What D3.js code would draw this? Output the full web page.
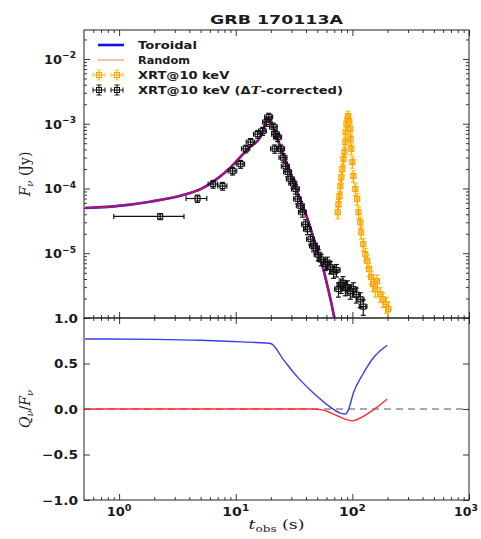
<!DOCTYPE html>
<html><head><meta charset="utf-8">
<script src="https://cdn.jsdelivr.net/npm/d3@7"></script>
<style>body{margin:0;background:#fff}</style>
</head><body>
<script>
// ---------- data ----------
const title = "GRB 170113A";
// model light curve (toroidal and random coincide in the upper panel)
const modelT = [0.51, 0.9, 1.9, 3.6, 5.0, 6.5, 9.0, 12.7, 16.4, 19.2, 22, 24.3, 28, 31.3, 35, 41.2, 46.4, 51, 56.5, 62, 66, 70];
const modelF = [5.0e-5, 5.3e-5, 6.3e-5, 8.0e-5, 9.8e-5, 1.3e-4, 2.1e-4, 4.1e-4, 6.4e-4, 1.26e-3, 6.8e-4, 4.3e-4, 2.2e-4, 1.26e-4, 7.4e-5, 3.4e-5, 1.74e-5, 1.0e-5, 5.6e-6, 2.8e-6, 1.7e-6, 1.0e-6];
// XRT @10 keV, ΔT-corrected (black)
const corrT = [2.25, 4.7, 6.4, 7.7, 9.4, 11.0, 12.2, 13.4, 15.4, 17.0, 18.4, 19.2, 21.1, 22.0, 22.9, 21.6, 24.3, 25.5, 26.7, 27.9, 29.5, 31.0, 32.6, 33.9, 35.9, 37.4, 39.7, 41.2, 43.8, 46.4, 48.5, 51, 54, 58.7, 61, 64.8, 69, 73, 76, 80, 83, 87, 91, 96, 102, 108, 117, 124];
const corrF = [3.7e-5, 7.0e-5, 1.17e-4, 1.09e-4, 1.86e-4, 2.38e-4, 4.1e-4, 5.2e-4, 6.9e-4, 7.7e-4, 1.06e-3, 1.27e-3, 8.9e-4, 6.9e-4, 6.2e-4, 4.1e-4, 4.1e-4, 3.0e-4, 2.2e-4, 1.8e-4, 1.4e-4, 1.2e-4, 9.8e-5, 6.9e-5, 5.4e-5, 4.3e-5, 2.8e-5, 2.35e-5, 1.65e-5, 1.3e-5, 1.2e-5, 9.5e-6, 8.0e-6, 6.8e-6, 7.2e-6, 6.1e-6, 5.2e-6, 5.5e-6, 2.8e-6, 3.2e-6, 3.5e-6, 2.9e-6, 3.0e-6, 2.6e-6, 2.8e-6, 2.3e-6, 1.95e-6, 1.5e-6];
const corrTerr = [1.35, 0.95, 0.6, 0.7, 0.8, 0.9, 1.0, 1.1, 1.2, 1.3, 1.4, 1.5, 1.6, 1.7, 1.8, 1.7, 1.9, 2.0, 2.1, 2.2, 2.3, 2.4, 2.5, 2.6, 2.8, 2.9, 3.0, 3.1, 3.3, 3.5, 3.6, 3.8, 4.0, 4.4, 4.6, 4.9, 5.2, 5.5, 5.7, 6.0, 6.2, 6.5, 6.8, 7.2, 7.6, 8.1, 8.8, 9.3];
const corrFerr = [0.4e-5, 0.9e-5, 1.6e-5, 1.5e-5, 2.5e-5, 3.3e-5, 5.5e-5, 7.0e-5, 9.5e-5, 1.1e-4, 1.5e-4, 1.8e-4, 1.3e-4, 1.0e-4, 0.9e-4, 0.6e-4, 0.6e-4, 0.45e-4, 0.35e-4, 0.28e-4, 0.22e-4, 0.19e-4, 1.6e-5, 1.1e-5, 0.9e-5, 0.7e-5, 0.5e-5, 0.42e-5, 0.3e-5, 0.25e-5, 0.23e-5, 1.9e-6, 1.6e-6, 1.4e-6, 1.5e-6, 1.3e-6, 1.1e-6, 1.2e-6, 0.7e-6, 0.8e-6, 0.85e-6, 0.7e-6, 0.75e-6, 0.65e-6, 0.7e-6, 0.6e-6, 0.5e-6, 0.4e-6];
// XRT @10 keV raw (orange)
const xrtT = [75, 76, 77.5, 79, 80.5, 82, 84, 85.5, 87, 87.5, 89, 91, 92, 94, 96, 96.5, 98, 100, 102, 106, 110, 113, 117, 119, 124, 129, 134, 139, 145, 151, 157, 163, 173, 183, 195, 203];
const xrtF = [4.3e-5, 5.7e-5, 7.6e-5, 1.09e-4, 1.5e-4, 2.0e-4, 2.85e-4, 3.65e-4, 5.2e-4, 7.4e-4, 1.0e-3, 1.18e-3, 1.31e-3, 1.1e-3, 8.3e-4, 5.8e-4, 4.1e-4, 2.56e-4, 1.56e-4, 9.8e-5, 6.9e-5, 4.3e-5, 3.0e-5, 2.1e-5, 1.38e-5, 9.7e-6, 7.6e-6, 5.7e-6, 4.3e-6, 3.33e-6, 2.8e-6, 3.7e-6, 2.33e-6, 1.95e-6, 1.63e-6, 1.37e-6];
const xrtTerr = [1.5, 1.5, 1.5, 1.6, 1.6, 1.6, 1.7, 1.7, 1.7, 1.7, 1.8, 1.8, 1.8, 1.9, 1.9, 1.9, 2.0, 2.0, 2.0, 2.1, 2.2, 2.3, 2.3, 2.4, 2.5, 2.6, 2.7, 2.8, 5.0, 5.5, 6.0, 6.5, 7.0, 8.0, 9.0, 10.0];
const xrtFerr = [0.9e-5, 1.1e-5, 1.5e-5, 2.2e-5, 3.0e-5, 4.0e-5, 5.7e-5, 7.3e-5, 1.0e-4, 1.5e-4, 2.0e-4, 2.4e-4, 2.6e-4, 2.2e-4, 1.7e-4, 1.2e-4, 0.8e-4, 0.5e-4, 0.31e-4, 2.0e-5, 1.4e-5, 0.9e-5, 0.6e-5, 0.45e-5, 0.3e-5, 2.1e-6, 1.7e-6, 1.3e-6, 1.0e-6, 0.8e-6, 0.7e-6, 0.9e-6, 0.6e-6, 0.5e-6, 0.45e-6, 0.4e-6];
// polarization degree Q/F
const torT = [0.51, 2, 5, 10, 15, 19.9, 25.7, 33.9, 46.4, 64.8, 78.9, 87.1, 92.4, 102, 124, 151, 199];
const torQ = [0.77, 0.765, 0.755, 0.74, 0.73, 0.72, 0.54, 0.35, 0.175, 0.02, -0.045, -0.055, -0.01, 0.175, 0.39, 0.56, 0.70];
const ranT = [0.51, 10, 30, 45, 55, 64.8, 78.9, 100, 124, 163, 199];
const ranQ = [0, 0, 0, 0, -0.01, -0.04, -0.09, -0.13, -0.08, 0.02, 0.11];
// axis ticks
const xMajor = [1, 10, 100, 1000];
const xMajorExp = ["0", "1", "2", "3"];
const yTopMajor = [1e-6, 1e-5, 1e-4, 1e-3, 1e-2];
const yTopLabels = [[1e-5, "−5"], [1e-4, "−4"], [1e-3, "−3"], [1e-2, "−2"]];
const yBotMajor = [-1, -0.5, 0, 0.5, 1];
const yBotLabels = ["−1.0", "−0.5", "0.0", "0.5", "1.0"];
const legendLabels = ["Toroidal", "Random", "XRT@10 keV", "XRT@10 keV ("];

// ---------- layout ----------
const W = 481, H = 539;
const L = 84, R = 469, T1 = 30, B1 = 318, T2 = 318, B2 = 500;
const FONT = "DejaVu Sans, sans-serif";
const SERIF = "DejaVu Serif, Liberation Serif, serif";

const svg = d3.select("body").append("svg").attr("width", W).attr("height", H)
  .style("font-family", FONT);

const x = d3.scaleLog().domain([0.5, 1000]).range([L, R]);
const yT = d3.scaleLog().domain([1e-6, 0.028]).range([B1, T1]);
const yB = d3.scaleLinear().domain([-1, 1]).range([B2, T2]);

function minorLog(lo, hi) {
  const out = [];
  for (let e = Math.floor(Math.log10(lo)); e <= Math.ceil(Math.log10(hi)); e++)
    for (let k = 2; k <= 9; k++) { const v = k * Math.pow(10, e); if (v > lo && v < hi) out.push(v); }
  return out;
}
const xMinor = minorLog(0.5, 1000);
const yTopMinor = minorLog(1e-6, 0.028);

function ax(gen, scale, vals, size, tx, ty) {
  const g = svg.append("g").attr("transform", `translate(${tx},${ty})`)
    .call(gen(scale).tickValues(vals).tickSizeInner(-size).tickSizeOuter(0).tickFormat(""));
  g.select(".domain").remove();
  g.selectAll("line").attr("stroke", "#222").attr("stroke-width", 0.9);
  return g;
}
ax(d3.axisBottom, x, xMajor, 6, 0, B1);
ax(d3.axisBottom, x, xMinor, 3, 0, B1);
ax(d3.axisTop, x, xMajor, 6, 0, T1);
ax(d3.axisTop, x, xMinor, 3, 0, T1);
ax(d3.axisLeft, yT, yTopMajor, 6, L, 0);
ax(d3.axisLeft, yT, yTopMinor, 3, L, 0);
ax(d3.axisRight, yT, yTopMajor, 6, R, 0);
ax(d3.axisRight, yT, yTopMinor, 3, R, 0);
ax(d3.axisBottom, x, xMajor, 6, 0, B2);
ax(d3.axisBottom, x, xMinor, 3, 0, B2);
ax(d3.axisTop, x, xMajor, 6, 0, T2);
ax(d3.axisTop, x, xMinor, 3, 0, T2);
ax(d3.axisLeft, yB, yBotMajor, 6, L, 0);
ax(d3.axisRight, yB, yBotMajor, 6, R, 0);

const defs = svg.append("defs");
defs.append("clipPath").attr("id", "c1").append("rect").attr("x", L).attr("y", T1).attr("width", R - L).attr("height", B1 - T1);
defs.append("clipPath").attr("id", "c2").append("rect").attr("x", L).attr("y", T2).attr("width", R - L).attr("height", B2 - T2);

// ---------- upper panel ----------
const up = svg.append("g").attr("clip-path", "url(#c1)");

function errbar(g, cx, cy, x0, x1, y0, y1, color, capColor, sw) {
  const c = capColor || color, cap = 2.5, w = sw || 1;
  g.append("line").attr("x1", x0).attr("x2", x1).attr("y1", cy).attr("y2", cy).attr("stroke", color).attr("stroke-width", w);
  g.append("line").attr("x1", cx).attr("x2", cx).attr("y1", y0).attr("y2", y1).attr("stroke", color).attr("stroke-width", w);
  g.append("line").attr("x1", x0).attr("x2", x0).attr("y1", cy - cap).attr("y2", cy + cap).attr("stroke", c).attr("stroke-width", w);
  g.append("line").attr("x1", x1).attr("x2", x1).attr("y1", cy - cap).attr("y2", cy + cap).attr("stroke", c).attr("stroke-width", w);
  g.append("line").attr("x1", cx - cap).attr("x2", cx + cap).attr("y1", y0).attr("y2", y0).attr("stroke", c).attr("stroke-width", w);
  g.append("line").attr("x1", cx - cap).attr("x2", cx + cap).attr("y1", y1).attr("y2", y1).attr("stroke", c).attr("stroke-width", w);
  g.append("rect").attr("x", cx - 2.5).attr("y", cy - 2.5).attr("width", 5).attr("height", 5)
    .attr("fill", "none").attr("stroke", color).attr("stroke-width", w);
}

const gO = up.append("g");
xrtT.forEach((t, i) => {
  errbar(gO, x(t), yT(xrtF[i]), x(t - xrtTerr[i]), x(t + xrtTerr[i]),
    yT(xrtF[i] + xrtFerr[i]), yT(Math.max(xrtF[i] - xrtFerr[i], 1e-7)), "#ffa000", "#f4c020", 1.2);
});

const modelPts = modelT.map((t, i) => [x(t), yT(modelF[i])]);
const mline = d3.line().curve(d3.curveMonotoneX);
up.append("path").attr("d", mline(modelPts)).attr("fill", "none").attr("stroke", "#1a1aff").attr("stroke-width", 2.6);
up.append("path").attr("d", mline(modelPts)).attr("fill", "none").attr("stroke", "#e0103a").attr("stroke-width", 2.2).attr("opacity", 0.72);

const gB = up.append("g");
corrT.forEach((t, i) => {
  errbar(gB, x(t), yT(corrF[i]), x(t - corrTerr[i]), x(t + corrTerr[i]),
    yT(corrF[i] + corrFerr[i]), yT(Math.max(corrF[i] - corrFerr[i], 1e-7)), "#111", null, 1.15);
});

// ---------- lower panel ----------
const lo = svg.append("g").attr("clip-path", "url(#c2)");
lo.append("line").attr("x1", L).attr("x2", R).attr("y1", yB(0)).attr("y2", yB(0))
  .attr("stroke", "#555").attr("stroke-width", 1).attr("stroke-dasharray", "7,5");
lo.append("path").attr("d", mline(ranT.map((t, i) => [x(t), yB(ranQ[i])])))
  .attr("fill", "none").attr("stroke", "#ff3030").attr("stroke-width", 1.4);
lo.append("path").attr("d", mline(torT.map((t, i) => [x(t), yB(torQ[i])])))
  .attr("fill", "none").attr("stroke", "#3c3ce6").attr("stroke-width", 1.4).attr("stroke-linejoin", "round");

svg.append("rect").attr("x", L).attr("y", T1).attr("width", R - L).attr("height", B1 - T1).attr("fill", "none").attr("stroke", "#222").attr("stroke-width", 1);
svg.append("rect").attr("x", L).attr("y", T2).attr("width", R - L).attr("height", B2 - T2).attr("fill", "none").attr("stroke", "#222").attr("stroke-width", 1);

// ---------- text helpers (the reference text is horizontally widened) ----------
function fitText(px, py, anchor, size, target, build, opts) {
  const g = svg.append("g").attr("transform", `translate(${px},${py})`);
  const t = g.append("text").attr("x", 0).attr("y", 0).attr("text-anchor", anchor)
    .attr("font-size", size).attr("fill", "#1a1a1a");
  if (opts && opts.family) t.attr("font-family", opts.family);
  if (opts && opts.weight) t.attr("font-weight", opts.weight);
  build(t);
  const w = t.node().getBBox().width;
  if (w > 0 && target) t.attr("transform", `scale(${target / w},1)`);
  return t;
}
function pow(exp) { return t => { t.append("tspan").text("10"); t.append("tspan").attr("dy", -5.5).attr("font-size", 8.5).text(exp); }; }

const xTW = [25, 27, 27, 24];
const xTShift = [0, 0, 0, -3];
xMajor.forEach((v, i) => fitText(x(v) + xTShift[i], 516, "middle", 11.5, xTW[i], pow(xMajorExp[i]), { weight: 600 }));
yTopLabels.forEach(([v, e]) => fitText(76, yT(v) + 5, "end", 12, 32, pow(e), { weight: 600 }));
const yBW = [36, 36, 24, 24, 24];
yBotMajor.forEach((v, i) => fitText(78, yB(v) + 4.5, "end", 11.5, yBW[i], t => t.text(yBotLabels[i]), { weight: 600 }));

// title
fitText((L + R) / 2, 24, "middle", 13, 133, t => t.text(title), { weight: 600 });

// axis labels
const yl1 = svg.append("text").attr("transform", `translate(30,${(T1 + B1) / 2}) rotate(-90)`)
  .attr("text-anchor", "middle").attr("font-family", SERIF).attr("font-size", 14).attr("fill", "#222");
yl1.append("tspan").attr("font-style", "italic").text("F");
yl1.append("tspan").attr("font-style", "italic").attr("font-size", 10).attr("dy", 3).text("ν");
yl1.append("tspan").attr("dy", -3).text(" (Jy)");

const yl2 = svg.append("text").attr("transform", `translate(30,${(T2 + B2) / 2}) rotate(-90)`)
  .attr("text-anchor", "middle").attr("font-family", SERIF).attr("font-size", 14).attr("fill", "#222");
yl2.append("tspan").attr("font-style", "italic").text("Q");
yl2.append("tspan").attr("font-style", "italic").attr("font-size", 10).attr("dy", 3).text("ν");
yl2.append("tspan").attr("dy", -3).text("/");
yl2.append("tspan").attr("font-style", "italic").text("F");
yl2.append("tspan").attr("font-style", "italic").attr("font-size", 10).attr("dy", 3).text("ν");

fitText((L + R) / 2, 529, "middle", 13, 56, t => {
  t.append("tspan").attr("font-style", "italic").text("t");
  t.append("tspan").attr("font-size", 9).attr("dy", 3).text("obs");
  t.append("tspan").attr("dy", -3).text(" (s)");
}, { family: SERIF });

// ---------- legend ----------
const lg = svg.append("g");
lg.append("line").attr("x1", 98).attr("x2", 124).attr("y1", 45).attr("y2", 45).attr("stroke", "#1010ee").attr("stroke-width", 2.6);
lg.append("line").attr("x1", 98).attr("x2", 124).attr("y1", 60).attr("y2", 60).attr("stroke", "#d49a86").attr("stroke-width", 1.2);
[99, 117].forEach(cx => {
  errbar(lg, cx, 75, cx - 6, cx + 6, 70, 80, "#f0a800", "#e8d830");
  errbar(lg, cx, 90, cx - 6, cx + 6, 85, 95, "#111");
});
const ly = [49, 64, 79];
const lw = [59, 52, 92];
legendLabels.slice(0, 3).forEach((s, i) => fitText(138, ly[i], "start", 11, lw[i], t => t.text(s), { weight: 600 }));
fitText(138, 94, "start", 11, 205, t => {
  t.append("tspan").text(legendLabels[3] + "Δ");
  t.append("tspan").attr("font-family", SERIF).attr("font-style", "italic").text("T");
  t.append("tspan").text("-corrected)");
}, { weight: 600 });
</script>
</body></html>
